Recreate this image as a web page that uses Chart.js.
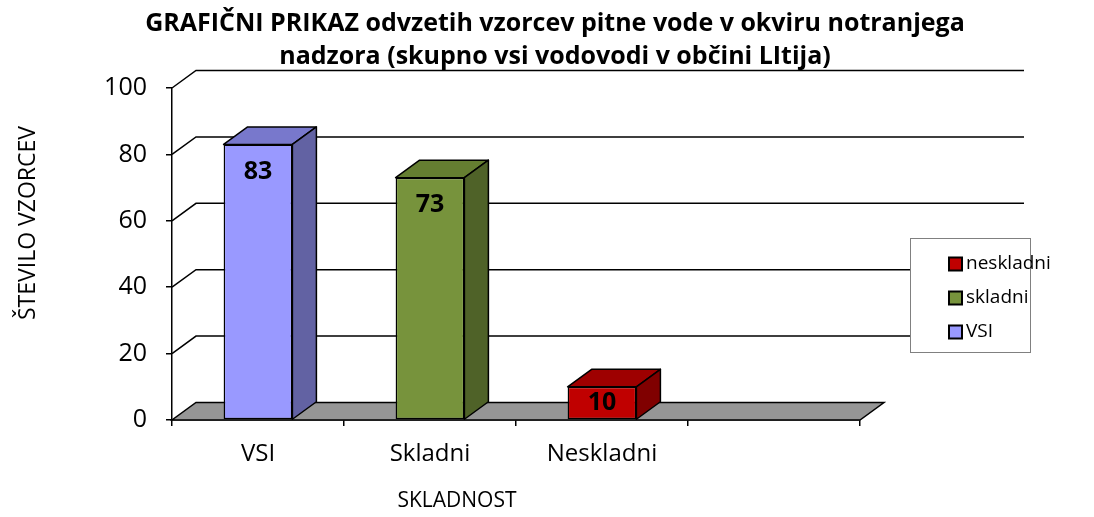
<!DOCTYPE html>
<html>
<head>
<meta charset="utf-8">
<script src="https://cdn.jsdelivr.net/npm/chart.js@4/dist/chart.umd.min.js"></script>
<style>
  body { margin: 0; background: #fff; }
  canvas { display: block; }
</style>
</head>
<body>
<canvas id="chart" width="1094" height="517"></canvas>
<script>
// Podatki
const categories = ['VSI', 'Skladni', 'Neskladni', ''];
const seriesNames = ['VSI', 'skladni', 'neskladni'];
const vsiValues = [83, null, null, null];
const skladniValues = [null, 73, null, null];
const neskladniValues = [null, null, 10, null];
const yTicks = [0, 20, 40, 60, 80, 100];

const titleLines = ['GRAFIČNI PRIKAZ odvzetih vzorcev pitne vode v okviru notranjega',
                    'nadzora (skupno vsi vodovodi v občini LItija)'];
const yTitle = 'ŠTEVILO VZORCEV';
const xTitle = 'SKLADNOST';

// barve: sprednja, stranska, zgornja ploskev
const colors = [
    { front: '#9999FF', side: '#6262A3', top: '#7878CC' },
    { front: '#77933C', side: '#4F6228', top: '#657E31' },
    { front: '#C00000', side: '#800000', top: '#9E0000' }
];

const DX = 24, DY = 17.5;
const FONT = '"Open Sans", sans-serif';
Chart.defaults.font.family = FONT;
Chart.defaults.color = '#000';

// 3D stene, tla in stranice stolpcev
const fake3d = {
    id: 'fake3d',
    beforeDatasetsDraw(chart) {
        const { ctx, chartArea: a, scales: { y } } = chart;
        ctx.save();
        ctx.strokeStyle = '#000';
        ctx.lineWidth = 1.5;
        yTicks.forEach(v => {
            if (v === 0) return;
            const p = y.getPixelForValue(v);
            ctx.beginPath();
            ctx.moveTo(a.left, p);
            ctx.lineTo(a.left + DX, p - DY);
            ctx.lineTo(a.right + 164, p - DY);
            ctx.stroke();
        });
        const p0 = y.getPixelForValue(0);
        ctx.fillStyle = '#969696';
        ctx.beginPath();
        ctx.moveTo(a.left, p0);
        ctx.lineTo(a.right, p0);
        ctx.lineTo(a.right + DX, p0 - DY);
        ctx.lineTo(a.left + DX, p0 - DY);
        ctx.closePath();
        ctx.fill();
        ctx.stroke();
        ctx.restore();
    },
    afterDatasetsDraw(chart) {
        const { ctx } = chart;
        ctx.save();
        ctx.strokeStyle = '#000';
        ctx.lineWidth = 1.5;
        ctx.lineJoin = 'round';
        chart.data.datasets.forEach((ds, i) => {
            const meta = chart.getDatasetMeta(i);
            meta.data.forEach((bar, j) => {
                const v = ds.data[j];
                if (v == null) return;
                const { x, y, base, width } = bar.getProps(['x', 'y', 'base', 'width'], true);
                const x0 = x - width / 2, x1 = x + width / 2;
                // zgoraj
                ctx.fillStyle = colors[i].top;
                ctx.beginPath();
                ctx.moveTo(x0, y);
                ctx.lineTo(x1, y);
                ctx.lineTo(x1 + DX, y - DY);
                ctx.lineTo(x0 + DX, y - DY);
                ctx.closePath();
                ctx.fill(); ctx.stroke();
                // desno
                ctx.fillStyle = colors[i].side;
                ctx.beginPath();
                ctx.moveTo(x1, y);
                ctx.lineTo(x1 + DX, y - DY);
                ctx.lineTo(x1 + DX, base - DY);
                ctx.lineTo(x1, base);
                ctx.closePath();
                ctx.fill(); ctx.stroke();
                // oznaka
                ctx.fillStyle = '#000';
                ctx.font = 'bold 25px ' + FONT;
                ctx.textAlign = 'center';
                ctx.textBaseline = 'middle';
                ctx.fillText(String(v), x, Math.min(y + 27, (y + base) / 2));
            });
        });
        ctx.restore();
    },
    afterDraw(chart) {
        const { ctx } = chart;
        ctx.save();
        ctx.fillStyle = '#000';
        ctx.textAlign = 'center';
        ctx.textBaseline = 'middle';
        // naslov
        ctx.font = 'bold 25px ' + FONT;
        ctx.fillText(titleLines[0], 555, 24);
        ctx.fillText(titleLines[1], 555, 57);
        // naslova osi
        ctx.font = '21px ' + FONT;
        ctx.fillText(xTitle, 457, 501);
        ctx.save();
        ctx.translate(28, 223);
        ctx.rotate(-Math.PI / 2);
        ctx.font = '23px ' + FONT;
        ctx.fillText(yTitle, 0, 0);
        ctx.restore();
        // legenda (obratni vrstni red)
        ctx.fillStyle = '#fff';
        ctx.fillRect(910, 238, 120, 114);
        ctx.strokeStyle = '#808080';
        ctx.lineWidth = 1;
        ctx.strokeRect(910.5, 238.5, 120, 114);
        ctx.font = '19px ' + FONT;
        ctx.textAlign = 'left';
        const order = [2, 1, 0];
        order.forEach((k, r) => {
            const cy = 264 + r * 34;
            ctx.fillStyle = colors[k].front;
            ctx.fillRect(949, cy - 6.5, 13, 13);
            ctx.strokeStyle = '#000';
            ctx.lineWidth = 2;
            ctx.strokeRect(949, cy - 6.5, 13, 13);
            ctx.fillStyle = '#000';
            ctx.fillText(seriesNames[k], 966, cy);
        });
        ctx.restore();
    }
};

const makeSet = (i, values) => ({
    label: seriesNames[i],
    data: values,
    backgroundColor: colors[i].front,
    borderColor: '#000',
    borderWidth: 1.5,
    borderSkipped: false,
    categoryPercentage: 0.8,
    barPercentage: 0.5
});

new Chart(document.getElementById('chart'), {
    type: 'bar',
    data: {
        labels: categories,
        datasets: [makeSet(0, vsiValues), makeSet(1, skladniValues), makeSet(2, neskladniValues)]
    },
    options: {
        responsive: false,
        animation: false,
        layout: { padding: { left: 92, right: 234, top: 88, bottom: 37 } },
        plugins: { legend: { display: false }, title: { display: false }, tooltip: { enabled: false } },
        scales: {
            x: {
                stacked: true,
                offset: true,
                afterFit: s => { s.height = 60; },
                grid: { display: true, drawOnChartArea: false, offset: true, tickLength: 6, color: '#000', lineWidth: 1.5 },
                border: { display: true, color: '#000', width: 1.5 },
                ticks: { font: { size: 24 }, padding: 14, color: '#000' }
            },
            y: {
                stacked: true,
                min: 0,
                max: 100,
                afterFit: s => { s.width = 80; },
                grid: { display: true, drawOnChartArea: false, tickLength: 6, color: '#000', lineWidth: 1.5 },
                border: { display: true, color: '#000', width: 1.5 },
                ticks: { stepSize: 20, font: { size: 25 }, padding: 19, color: '#000' }
            }
        }
    },
    plugins: [fake3d]
});
</script>
</body>
</html>
